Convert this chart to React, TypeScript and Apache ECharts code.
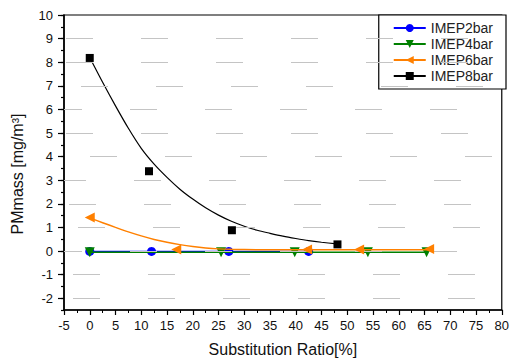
import React, { useEffect, useRef } from "react";
import * as echarts from "echarts";

// ---- data ----
const legendNames = ["IMEP2bar", "IMEP4bar", "IMEP6bar", "IMEP8bar"];

const imep2X = [0, 12, 27, 42.5];
const imep2Y = [-0.02, -0.02, -0.02, -0.02];

const imep4X = [0, 25.5, 39.8, 54, 65.4];
const imep4Y = [-0.05, -0.05, -0.05, -0.05, -0.05];

const imep6X = [0, 16.8, 42.2, 52.3, 65.9];
const imep6Y = [1.42, 0.06, 0.06, 0.06, 0.08];

const imep8X = [0, 11.5, 27.6, 48.1];
const imep8Y = [8.18, 3.38, 0.88, 0.28];

// fitted curves
const fit6X = [0, 2.5, 5, 7.5, 10, 12.5, 15, 17.5, 20, 22.5, 25, 27.5, 30, 35, 66];
const fit6Y = [1.4, 1.2, 1.0, 0.81, 0.64, 0.49, 0.37, 0.27, 0.19, 0.13, 0.09, 0.07, 0.06, 0.05, 0.05];

const fit8X = [0, 2.5, 5, 7.5, 10, 12.5, 15, 17.5, 20, 22.5, 25, 27.5, 30, 32.5, 35, 37.5, 40, 42.5, 45, 48];
const fit8Y = [8.2, 7.15, 6.15, 5.2, 4.35, 3.68, 3.12, 2.62, 2.2, 1.83, 1.52, 1.26, 1.05, 0.88, 0.75, 0.63, 0.53, 0.44, 0.37, 0.3];

const yMajorTicks = [-2, -1, 0, 1, 2, 3, 4, 5, 6, 7, 8, 9, 10];
const yGridValues = [9, 8, 7, 6, 5, 4, 3, 2, 1, 0, -1, -2];

// ---- styling ----
const gridDashStarts = [66, 66, 81, 55, 66, 90, 59, 69, 78, 55, 73, 73];
const DASH = 27;
const GAP = 48;
const FONT = "Liberation Sans, Arial, sans-serif";

const zip = (xs: number[], ys: number[]) => xs.map((x, i) => [x, ys[i]]);

export default function App() {
  const ref = useRef<HTMLDivElement>(null);
  useEffect(() => {
    if (!ref.current) return;
    const chart = echarts.init(ref.current, undefined, { renderer: "svg" });
    const gridLeft = 64;
    const gridLines = yGridValues.map((v, i) => {
      const period = DASH + GAP;
      const off = (((gridLeft - gridDashStarts[i]) % period) + period) % period;
      return [
        {
          coord: [-5, v],
          lineStyle: { color: "#c4c4c4", width: 1, type: [DASH, GAP], dashOffset: off },
        },
        { coord: [80, v] },
      ];
    });

    const option: any = {
      animation: false,
      backgroundColor: "#fff",
      grid: {
        left: gridLeft,
        top: 15,
        right: 7,
        bottom: 50,
        show: true,
        borderColor: "#000",
        borderWidth: 1.2,
        backgroundColor: "transparent",
      },
      xAxis: {
        type: "value",
        min: -5,
        max: 80,
        interval: 5,
        name: "Substitution Ratio[%]",
        nameLocation: "middle",
        nameGap: 31,
        nameTextStyle: { fontFamily: FONT, fontSize: 16, color: "#111" },
        axisLine: { show: true, onZero: false, lineStyle: { color: "#000", width: 1.6 } },
        axisTick: { show: true, length: 5, lineStyle: { color: "#000", width: 1.2 } },
        minorTick: { show: true, splitNumber: 2, length: 3, lineStyle: { color: "#000", width: 1 } },
        axisLabel: { fontFamily: FONT, fontSize: 13, color: "#111", margin: 9 },
        splitLine: { show: false },
      },
      yAxis: [
        {
          type: "value",
          min: -2.5,
          max: 10,
          interval: 0.5,
          axisLine: { show: true, onZero: false, lineStyle: { color: "#000", width: 1.6 } },
          axisTick: { show: true, length: 3, lineStyle: { color: "#000", width: 1.2 } },
          axisLabel: {
            fontFamily: FONT,
            fontSize: 13,
            color: "#111",
            margin: 11,
            formatter: (v: number) => (Number.isInteger(v) ? String(v) : ""),
          },
          splitLine: { show: false },
        },
        {
          type: "value",
          min: -2.5,
          max: 10,
          position: "left",
          offset: 0,
          axisLine: { show: false, onZero: false },
          axisTick: {
            show: true,
            length: 6,
            customValues: yMajorTicks,
            lineStyle: { color: "#000", width: 1.2 },
          },
          axisLabel: { show: false },
          splitLine: { show: false },
        },
      ],
      legend: {
        data: legendNames,
        orient: "vertical",
        right: 6,
        top: 15,
        padding: [6, 13, 6, 14],
        itemWidth: 32,
        itemHeight: 10,
        itemGap: 2,
        borderColor: "#000",
        borderWidth: 1.2,
        borderRadius: 0,
        backgroundColor: "#fff",
        textStyle: { fontFamily: FONT, fontSize: 14, color: "#222" },
      },
      graphic: [
        {
          type: "text",
          x: 17,
          y: 174,
          rotation: Math.PI / 2,
          style: {
            text: "PMmass [mg/m³]",
            fontFamily: FONT,
            fontSize: 16,
            fill: "#111",
            textAlign: "center",
            textVerticalAlign: "middle",
          },
        },
      ],
      series: [
        {
          type: "line",
          name: "gridlines",
          data: [],
          silent: true,
          z: 0,
          markLine: {
            silent: true,
            symbol: ["none", "none"],
            label: { show: false },
            data: gridLines,
          },
        },
        {
          type: "line",
          name: "IMEP2bar",
          data: zip(imep2X, imep2Y),
          symbol: "circle",
          symbolSize: 9,
          color: "#0000ff",
          lineStyle: { color: "#0000ff", width: 1.5 },
          itemStyle: { color: "#0000ff", opacity: 1 },
          z: 2,
        },
        {
          type: "line",
          name: "IMEP4bar",
          data: zip(imep4X, imep4Y),
          symbol: "triangle",
          symbolRotate: 180,
          symbolSize: 10,
          color: "#008000",
          lineStyle: { color: "#008000", width: 1.5 },
          itemStyle: { color: "#008000", opacity: 1 },
          z: 3,
        },
        {
          type: "line",
          name: "IMEP6bar",
          data: zip(fit6X, fit6Y),
          smooth: 0.3,
          showSymbol: false,
          symbol: "triangle",
          symbolRotate: 90,
          symbolSize: 10,
          color: "#ff8000",
          lineStyle: { color: "#ff8000", width: 1.5 },
          itemStyle: { color: "#ff8000", opacity: 1 },
          z: 4,
        },
        {
          type: "scatter",
          name: "IMEP6bar",
          data: zip(imep6X, imep6Y),
          symbol: "triangle",
          symbolRotate: 90,
          symbolSize: 10,
          itemStyle: { color: "#ff8000", opacity: 1 },
          z: 5,
        },
        {
          type: "line",
          name: "IMEP8bar",
          data: zip(fit8X, fit8Y),
          smooth: 0.3,
          showSymbol: false,
          symbol: "rect",
          symbolSize: 8,
          color: "#000",
          lineStyle: { color: "#000", width: 1.2 },
          itemStyle: { color: "#000", opacity: 1 },
          z: 4,
        },
        {
          type: "scatter",
          name: "IMEP8bar",
          data: zip(imep8X, imep8Y),
          symbol: "rect",
          symbolSize: 8,
          itemStyle: { color: "#000", opacity: 1 },
          z: 5,
        },
      ],
    };
    chart.setOption(option);
    return () => chart.dispose();
  }, []);
  return (
    <div
      ref={ref}
      style={{ position: "absolute", left: 0, top: 0, width: 512, height: 362 }}
    />
  );
}
